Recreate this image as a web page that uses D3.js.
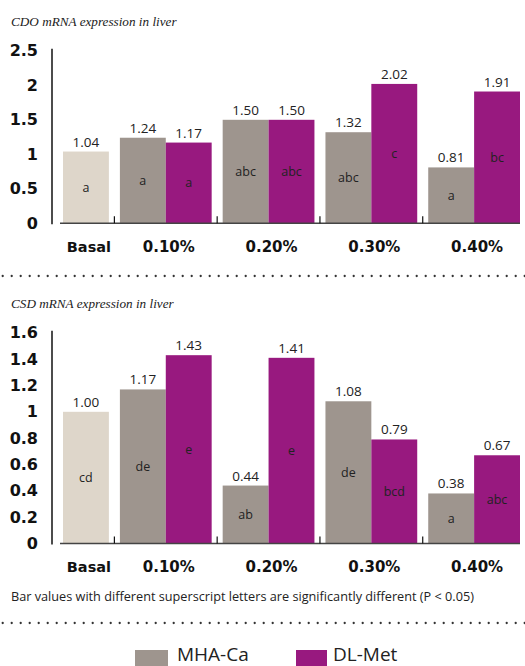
<!DOCTYPE html>
<html>
<head>
<meta charset="utf-8">
<script src="https://cdn.jsdelivr.net/npm/d3@7"></script>
<style>
  html, body { margin: 0; padding: 0; background: #fff; }
  svg { display: block; }
</style>
</head>
<body>
<svg id="chart" width="525" height="666"></svg>
<script>
// Groups along the x axis
const groups = ["0.10%", "0.20%", "0.30%", "0.40%"];
const basalLabel = "Basal";
const seriesNames = ["MHA-Ca", "DL-Met"];

// CDO mRNA expression in liver
const cdoBasal = 1.04;
const cdoMHA = [1.24, 1.50, 1.32, 0.81];
const cdoDL = [1.17, 1.50, 2.02, 1.91];
const cdoBasalLetter = "a";
const cdoMHALetters = ["a", "abc", "abc", "a"];
const cdoDLLetters = ["a", "abc", "c", "bc"];
const cdoTicks = [0, 0.5, 1, 1.5, 2, 2.5];

// CSD mRNA expression in liver
const csdBasal = 1.00;
const csdMHA = [1.17, 0.44, 1.08, 0.38];
const csdDL = [1.43, 1.41, 0.79, 0.67];
const csdBasalLetter = "cd";
const csdMHALetters = ["de", "ab", "de", "a"];
const csdDLLetters = ["e", "e", "bcd", "abc"];
const csdTicks = [0, 0.2, 0.4, 0.6, 0.8, 1, 1.2, 1.4, 1.6];

const colors = { basal: "#ded6ca", mha: "#9e958e", dl: "#98197f" };
const SANS = "'Open Sans', 'Noto Sans', sans-serif";
const BOLD = "'DejaVu Sans', sans-serif";
const SERIF = "'Liberation Serif', 'DejaVu Serif', serif";

const svg = d3.select("#chart");

// x positions expressed in bar-width units: basal bar, then four pairs separated by a gap
const GAP = 0.24;
const groupStart = g => 1 + GAP * (g + 1) + 2 * g;   // g = 0..3
const xu = d3.scaleLinear().domain([0, groupStart(3) + 2]).range([63, 520]);
const unit = xu(1) - xu(0);

function drawPanel(opts) {
  const { title, titleY, yMax, yTop, yBase, ticks, basal, mha, dl, basalLetter, mhaLetters, dlLetters } = opts;
  const y = d3.scaleLinear().domain([0, yMax]).range([yBase, yTop]);
  const g = svg.append("g");

  g.append("text")
    .attr("x", 11).attr("y", titleY)
    .attr("font-family", SERIF).attr("font-style", "italic")
    .attr("font-size", 13.2).attr("fill", "#222")
    .text(title);

  // Bars
  const bars = [{ v: basal, letter: basalLetter, x0: 0, color: colors.basal }];
  groups.forEach((_, i) => {
    bars.push({ v: mha[i], letter: mhaLetters[i], x0: groupStart(i), color: colors.mha });
    bars.push({ v: dl[i], letter: dlLetters[i], x0: groupStart(i) + 1, color: colors.dl });
  });

  g.selectAll("rect.bar").data(bars).join("rect")
    .attr("class", "bar")
    .attr("x", d => xu(d.x0))
    .attr("width", unit)
    .attr("y", d => y(d.v))
    .attr("height", d => y(0) - y(d.v))
    .attr("fill", d => d.color);

  g.selectAll("text.val").data(bars).join("text")
    .attr("class", "val")
    .attr("x", d => xu(d.x0 + 0.5))
    .attr("y", d => y(d.v) - 5)
    .attr("text-anchor", "middle")
    .attr("font-family", SANS).attr("font-size", 13.5).attr("fill", "#222")
    .text(d => d.v.toFixed(2));

  g.selectAll("text.letter").data(bars).join("text")
    .attr("class", "letter")
    .attr("x", d => xu(d.x0 + 0.5))
    .attr("y", d => y(d.v / 2))
    .attr("dy", "0.35em")
    .attr("text-anchor", "middle")
    .attr("font-family", SANS).attr("font-size", 12.5).attr("fill", "#222")
    .text(d => d.letter);

  // Y axis labels
  const axis = d3.axisLeft(y).tickValues(ticks).tickSize(0).tickPadding(14)
    .tickFormat(d3.format("~g"));
  const ax = g.append("g").attr("transform", "translate(52,0)").call(axis);
  ax.select(".domain").remove();
  ax.selectAll("text")
    .attr("font-family", BOLD).attr("font-weight", "bold")
    .attr("font-size", 16).attr("fill", "#111");

  g.append("line")
    .attr("x1", 52).attr("x2", 52)
    .attr("y1", yTop - 2).attr("y2", yBase + 1)
    .attr("stroke", "#111").attr("stroke-width", 1.5);

  // Baseline and separators between groups
  g.append("line")
    .attr("x1", 60).attr("x2", 520)
    .attr("y1", yBase).attr("y2", yBase)
    .attr("stroke", "#444").attr("stroke-width", 1.6);

  const sepX = [1 + GAP / 2].concat(d3.range(3).map(i => groupStart(i) + 2 + GAP / 2));
  g.selectAll("line.sep").data(sepX).join("line")
    .attr("class", "sep")
    .attr("x1", d => xu(d)).attr("x2", d => xu(d))
    .attr("y1", yBase - 7).attr("y2", yBase)
    .attr("stroke", "#111").attr("stroke-width", 1.2);

  // Category labels
  const labels = [{ t: basalLabel, x: xu(0.5) + 3, size: 14.5 }]
    .concat(groups.map((t, i) => ({ t, x: xu(groupStart(i) + 1) + 3, size: 15 })));
  g.selectAll("text.cat").data(labels).join("text")
    .attr("class", "cat")
    .attr("x", d => d.x).attr("y", yBase + 28.5)
    .attr("text-anchor", "middle")
    .attr("font-family", BOLD).attr("font-weight", "bold")
    .attr("font-size", d => d.size).attr("fill", "#111")
    .text(d => d.t);
}

drawPanel({
  title: "CDO mRNA expression in liver", titleY: 26,
  yMax: 2.5, yTop: 50.8, yBase: 223.3, ticks: cdoTicks,
  basal: cdoBasal, mha: cdoMHA, dl: cdoDL,
  basalLetter: cdoBasalLetter, mhaLetters: cdoMHALetters, dlLetters: cdoDLLetters
});

drawPanel({
  title: "CSD mRNA expression in liver", titleY: 308,
  yMax: 1.6, yTop: 332.8, yBase: 543.5, ticks: csdTicks,
  basal: csdBasal, mha: csdMHA, dl: csdDL,
  basalLetter: csdBasalLetter, mhaLetters: csdMHALetters, dlLetters: csdDLLetters
});

// Dotted separators
[276, 623].forEach(yy => {
  svg.append("g").selectAll("circle").data(d3.range(2.7, 525, 9)).join("circle")
    .attr("cx", d => d).attr("cy", yy).attr("r", 1.15).attr("fill", "#333");
});

// Footnote
svg.append("text")
  .attr("x", 11).attr("y", 601)
  .attr("font-family", SANS).attr("font-size", 12.7).attr("fill", "#222")
  .text("Bar values with different superscript letters are significantly different (P < 0.05)");

// Legend
const legend = [
  { name: seriesNames[0], color: colors.mha, x: 135, w: 33, tx: 177 },
  { name: seriesNames[1], color: colors.dl, x: 296, w: 31, tx: 333 }
];
const lg = svg.append("g");
lg.selectAll("rect").data(legend).join("rect")
  .attr("x", d => d.x).attr("y", 650).attr("width", d => d.w).attr("height", 28)
  .attr("fill", d => d.color);
lg.selectAll("text").data(legend).join("text")
  .attr("x", d => d.tx).attr("y", 660.5)
  .attr("font-family", SANS).attr("font-size", 19).attr("fill", "#222")
  .text(d => d.name);
</script>
</body>
</html>
